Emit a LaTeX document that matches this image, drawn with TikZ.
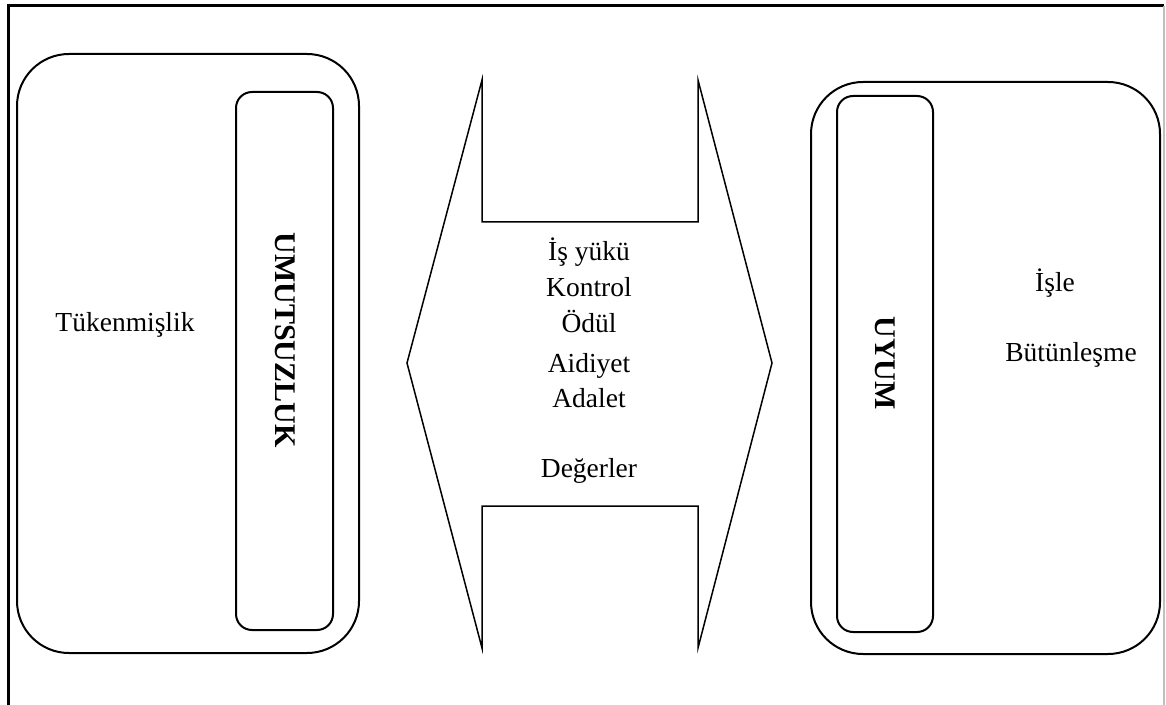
\documentclass[tikz,border=0pt]{standalone}
\usepackage{fontspec}
\setmainfont{Liberation Serif}

\begin{document}
\begin{tikzpicture}[x=0.5pt,y=-0.5pt,
    bigbox/.style={draw, line width=1pt, rounded corners=26pt},
    slimbox/.style={draw, line width=1pt, rounded corners=8pt},
    word/.style={font=\fontsize{13.75}{18}\selectfont, inner sep=0pt},
    sideword/.style={font=\fontsize{15}{18}\selectfont\bfseries, rotate=-90, inner sep=0pt}]
    \useasboundingbox (0,0) rectangle (1166,705);

    % frame
    \draw[line width=1.5pt] (8,705) -- (8,6) -- (1164,6);
    \draw[gray!50, line width=0.6pt] (1164,6) -- (1164,705);

    % left side
    \draw[bigbox] (17,54) rectangle (359,653);
    \draw[slimbox] (236,92) rectangle (333,630);
    \node[word, anchor=base] (tuken) at (125,332) {Tükenmişlik};
    \node[sideword] (umut) at (285,340) {UMUTSUZLUK};

    % double arrow in the middle
    \draw[line width=0.75pt] (407,363) -- (482,80) -- (482,222) -- (698,222) -- (698,80)
        -- (772,363) -- (698,648) -- (698,506) -- (482,506) -- (482,648) -- cycle;
    \foreach \name/\word/\y in {isyuku/İş yükü/261, kontrol/Kontrol/297, odul/Ödül/333,
        aidiyet/Aidiyet/372, adalet/Adalet/408, degerler/Değerler/477}
    \node[word, anchor=base] (\name) at (589,\y) {\word};

    % right side
    \draw[bigbox] (811,82) rectangle (1160,654);
    \draw[slimbox] (837,96) rectangle (933,632);
    \node[sideword] (uyum) at (885,363) {UYUM};
    \node[word, anchor=base] (isle) at (1055,292) {İşle};
    \node[word, anchor=base] (butun) at (1071,362) {Bütünleşme};
\end{tikzpicture}
\end{document}
